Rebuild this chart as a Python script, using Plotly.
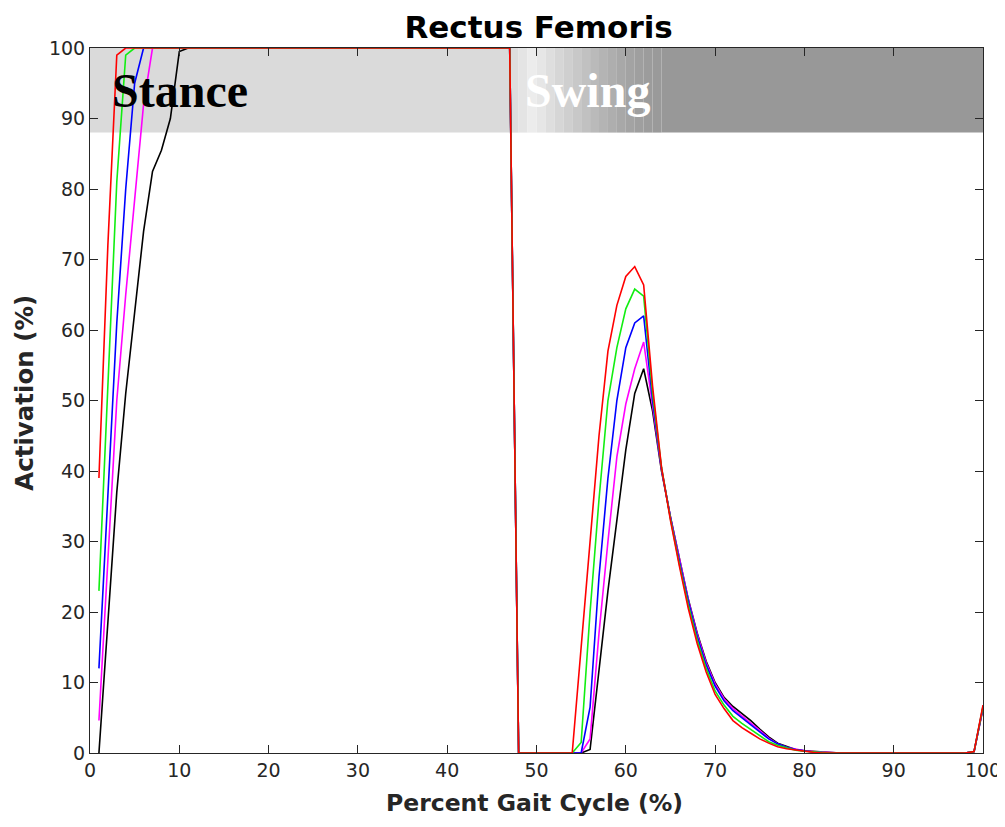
import plotly.graph_objects as go

# ---------------- data ----------------
gait = list(range(1, 101))

red = ([39, 72, 99] + [100] * 44 + [0] * 7 +
       [15, 30, 45, 57, 63.5, 67.6, 69, 66.4, 52, 40.5, 33, 26.5, 20.5, 15.5, 11.5, 8.3,
        6.3, 4.6, 3.6, 2.8, 2.0, 1.4, 0.9, 0.6, 0.4, 0.2, 0.1] + [0] * 17 + [0.2, 6.8])
green = ([23, 53, 81, 99] + [100] * 43 + [0] * 7 +
         [1.5, 20, 36, 50, 57.5, 63, 65.8, 64.8, 51, 40.5, 33.2, 26.8, 21, 16, 12, 8.8,
          6.8, 5.2, 4.2, 3.3, 2.4, 1.6, 1.1, 0.7, 0.4, 0.25, 0.15, 0.05] + [0] * 16 + [0.2, 6.6])
blue = ([12, 36, 61, 80, 95] + [100] * 42 + [0] * 8 +
        [6.5, 25, 39, 50, 57.5, 61, 62, 50, 40.3, 33.4, 27.2, 21.5, 16.5, 12.5, 9.5,
         7.4, 6, 5, 4, 3, 2, 1.3, 0.8, 0.5, 0.3, 0.15, 0.05] + [0] * 16 + [0.2, 6.5])
magenta = ([4.6, 27, 50, 65, 79, 92] + [100] * 41 + [0] * 8 +
           [2, 17, 30, 42, 49.5, 54.5, 58.3, 49.5, 40.2, 33.5, 27.4, 21.7, 16.8, 12.8, 9.8,
            7.7, 6.3, 5.3, 4.3, 3.2, 2.1, 1.3, 0.8, 0.5, 0.3, 0.2, 0.1] + [0] * 16 + [0.2, 6.4])
black = ([0, 19, 37, 51, 63, 74, 82.5, 85.5, 90, 99.5] + [100] * 37 + [0] * 8 +
         [0.5, 12, 23, 33, 43, 51, 54.5, 48.5, 40, 33.5, 27.5, 21.8, 17, 13, 10,
          7.9, 6.6, 5.6, 4.6, 3.4, 2.3, 1.4, 0.9, 0.5, 0.3, 0.2, 0.1] + [0] * 16 + [0.2, 6.3])

series = [("black", black, "#000000"),
          ("magenta", magenta, "#ff00ff"),
          ("blue", blue, "#0000ff"),
          ("green", green, "#11ee11"),
          ("red", red, "#ff0000")]

x_ticks = list(range(0, 101, 10))
y_ticks = list(range(0, 101, 10))

# phase band
band_bottom = 88
stance_end = 47
stance_color = "#dadada"
swing_grad = ["#dddddd", "#e4e4e4", "#ececec", "#e6e6e6", "#dedede", "#d6d6d6",
              "#cfcfcf", "#c8c8c8", "#c1c1c1", "#bababa", "#b4b4b4", "#aeaeae",
              "#a8a8a8", "#a3a3a3", "#9f9f9f", "#9c9c9c", "#9a9a9a"]
swing_color = "#989898"

# ---------------- figure ----------------
fig = go.Figure()
for name, vals, col in series:
    fig.add_trace(go.Scatter(x=gait, y=vals, mode="lines", name=name,
                             line=dict(color=col, width=1.6), showlegend=False))

shapes = [dict(type="rect", xref="x", yref="y", x0=0, x1=stance_end, y0=band_bottom, y1=100,
               fillcolor=stance_color, line=dict(width=0), layer="below")]
for i, c in enumerate(swing_grad):
    shapes.append(dict(type="rect", xref="x", yref="y", x0=stance_end + i, x1=stance_end + i + 1,
                       y0=band_bottom, y1=100, fillcolor=c, line=dict(width=0), layer="below"))
shapes.append(dict(type="rect", xref="x", yref="y", x0=stance_end + len(swing_grad), x1=100,
                   y0=band_bottom, y1=100, fillcolor=swing_color, line=dict(width=0), layer="below"))

SANS = "DejaVu Sans"
axis_common = dict(showline=True, linecolor="#262626", linewidth=1, mirror="ticks",
                   ticks="inside", ticklen=8, tickcolor="#262626", showgrid=False,
                   zeroline=False, automargin=False,
                   tickfont=dict(family=SANS, size=19, color="#262626"))

fig.update_layout(
    width=1005, height=827,
    paper_bgcolor="white", plot_bgcolor="white",
    margin=dict(l=82, r=30, t=40, b=82),
    title=dict(text="Rectus Femoris", x=0.528, xanchor="center", y=0.977, yanchor="middle",
               font=dict(family=SANS, size=31, color="black", weight="bold")),
    xaxis=dict(range=[0, 100], tickvals=x_ticks, **axis_common),
    yaxis=dict(range=[0, 100], tickvals=y_ticks, **axis_common),
    shapes=shapes,
    annotations=[
        dict(x=0.498, y=0, xref="paper", yref="paper", yshift=-50, text="Percent Gait Cycle (%)",
             showarrow=False, xanchor="center", yanchor="middle",
             font=dict(family=SANS, size=23.5, color="#262626", weight="bold")),
        dict(x=0, y=0.511, xref="paper", yref="paper", xshift=-65, text="Activation (%)",
             textangle=-90, showarrow=False, xanchor="center", yanchor="middle",
             font=dict(family=SANS, size=24.5, color="#262626", weight="bold")),
        dict(x=2.2, y=94, xref="x", yref="y", text="Stance", showarrow=False, xanchor="left",
             yanchor="middle", font=dict(family="Liberation Serif", size=48, color="black", weight="bold")),
        dict(x=48.5, y=94, xref="x", yref="y", text="Swing", showarrow=False, xanchor="left",
             yanchor="middle", font=dict(family="Liberation Serif", size=48, color="white", weight="bold")),
    ],
)

fig.write_html("out.html")
